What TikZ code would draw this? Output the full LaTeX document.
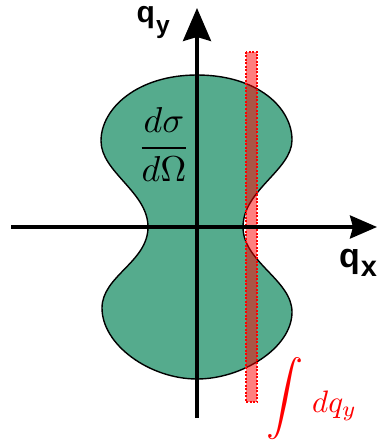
\documentclass[tikz,border=0pt]{standalone}
\usepackage{amsmath}
\usepackage{graphicx}
\usepackage{fontspec}
\newfontfamily\labelfont{Liberation Sans}
\usepackage{xcolor}
\usepackage{tikz}
\usetikzlibrary{arrows.meta}

\definecolor{lobegreen}{RGB}{85,171,141}

\begin{document}
\begin{tikzpicture}[x=1pt, y=-1pt,
  axis/.style={line width=3.5pt},
  strip/.style={draw=red, fill=red, fill opacity=0.5, line width=1.4pt, dash pattern=on 2pt off 1.5pt},
  qlabel/.style={inner sep=0pt, anchor=base west, font=\labelfont\bfseries}]
\useasboundingbox (0,0) rectangle (378,441);

% Draw cross section
\draw[fill=lobegreen, line width=1.4pt] (197,75)
  .. controls (258,75) and (292,108) .. (292,140)
  .. controls (292,170) and (243,190) .. (243,227)
  .. controls (243,262) and (292,280) .. (292,312)
  .. controls (292,348) and (242,379) .. (197,379)
  .. controls (150,379) and (102,345) .. (102,308)
  .. controls (102,276) and (148,262) .. (148,227)
  .. controls (148,192) and (101,172) .. (101,141)
  .. controls (101,108) and (138,75) .. cycle;

% Draw integration strip
\draw[strip] (246,52) rectangle (257,402);

% Draw axes
\coordinate (ybot) at (197,418);
\coordinate (ytop) at (197,8);
\coordinate (xleft) at (11,227);
\coordinate (xright) at (377,227);
\draw[axis, -{Stealth[length=33pt, width=28pt, inset=4pt]}] (ybot) -- (ytop);
\draw[axis, -{Stealth[length=27pt, width=23pt, inset=3pt]}] (xleft) -- (xright);

\node[qlabel] (qy) at (136.5,23) {\fontsize{30}{30}\selectfont q\kern1pt\raisebox{-10.5pt}{\fontsize{24.6}{25}\selectfont y}};
\node[qlabel] (qx) at (338.8,267.6) {\fontsize{34}{34}\selectfont q\kern1pt\raisebox{-9pt}{\fontsize{29}{29}\selectfont x}};

\node[inner sep=0pt, anchor=base] (dsdo) at (164,157) {\scalebox{3.6}{$\dfrac{d\sigma}{d\Omega}$}};

\node[text=red, inner sep=0pt, anchor=base west] (intq) at (266,412) {\raisebox{4pt}{\scalebox{3.7}{$\displaystyle\int$}}\hspace{9pt}\scalebox{3.1}{$dq_y$}};
\end{tikzpicture}
\end{document}
